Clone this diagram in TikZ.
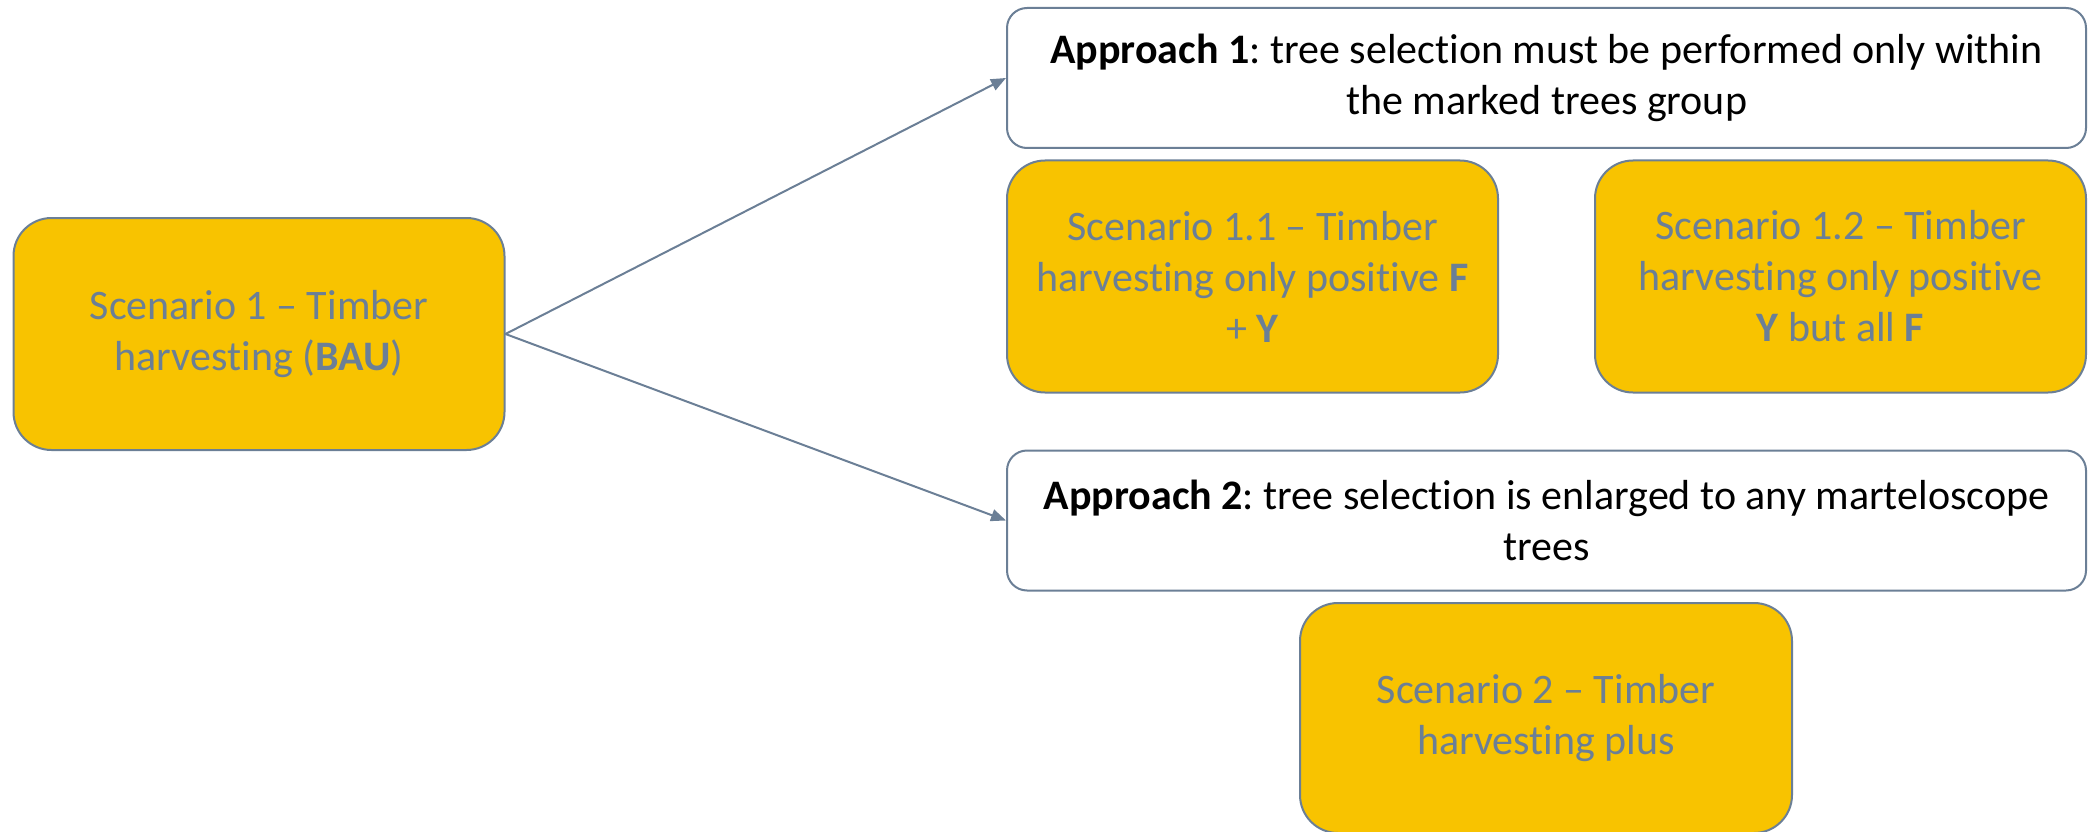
\documentclass[tikz,border=0pt]{standalone}
\usepackage{fontspec}
\setmainfont{Carlito}[Ligatures={TeX,NoCommon}]
\usetikzlibrary{arrows.meta}
\definecolor{gold}{HTML}{F8C300}
\definecolor{slate}{HTML}{6B7F96}
\tikzset{
  x=1pt, y=-1pt,
  scen/.style={draw=slate, line width=2pt, fill=gold, rounded corners=38pt,
    minimum width=491pt, minimum height=232pt, inner sep=0pt, align=center,
    text=slate, font=\fontsize{42}{51}\selectfont},
  appr/.style={draw=slate, line width=2pt, fill=white, rounded corners=20pt,
    minimum width=1079pt, minimum height=140pt, inner sep=0pt, align=center,
    text=black, font=\fontsize{42}{51}\selectfont},
  conn/.style={draw=slate, line width=2pt, -{Triangle[length=15pt,width=12pt]}}
}
\frenchspacing
\begin{document}
\begin{tikzpicture}
\useasboundingbox (0,0) rectangle (2094,832);
\node[scen] (s1) at (259,334) {Scenario 1 -- Timber\\harvesting (\textbf{BAU})};
\node[appr] (a1) at (1546.5,78) {\textbf{Approach 1}: tree selection must be performed only within\\the marked trees group};
\node[scen] (s11) at (1252.5,276.5) {Scenario 1.1 -- Timber\\harvesting only positive \textbf{F}\\+ \textbf{Y}};
\node[scen] (s12) at (1840.5,276.5) {Scenario 1.2 -- Timber\\harvesting only positive\\\textbf{Y} but all \textbf{F}};
\node[appr] (a2) at (1546.5,520.5) {\textbf{Approach 2}: tree selection is enlarged to any marteloscope\\trees};
\node[scen, minimum width=492pt, minimum height=230pt] (s2) at (1546,718) {Scenario 2 -- Timber\\harvesting plus};
\draw[conn] (s1.east) -- (a1.west);
\draw[conn] (s1.east) -- (a2.west);
\end{tikzpicture}
\end{document}
